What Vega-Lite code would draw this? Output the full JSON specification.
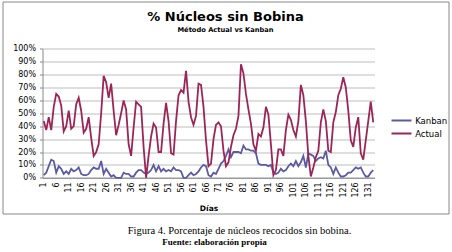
{
  "$schema": "https://vega.github.io/schema/vega-lite/v6.json",
  "padding": {"left": 1.5, "top": 0.5, "right": 0, "bottom": 0},
  "background": "white",
  "title": {"text": "Fuente: elaboración propia", "orient": "bottom", "anchor": "middle", "offset": 1, "dx": -11, "font": "Liberation Serif", "fontSize": 9, "fontWeight": "bold", "color": "#000"},
  "vconcat": [
    {
      "title": {"text": "Figura 4. Porcentaje de núcleos recocidos sin bobina.", "orient": "bottom", "anchor": "middle", "offset": 12, "dx": 14, "font": "Liberation Serif", "fontSize": 10.5, "fontWeight": "normal", "color": "#000"},
      "vconcat": [
        {
          "width": 446,
          "height": 212,
          "title": {"text": "% Núcleos sin Bobina", "subtitle": "Método Actual vs Kanban", "anchor": "middle", "frame": "group", "orient": "top", "offset": -32.5, "font": "DejaVu Sans", "fontSize": 13, "fontWeight": "bold", "color": "#000", "subtitleFont": "DejaVu Sans", "subtitleFontSize": 6.7, "subtitleFontWeight": "bold", "subtitleColor": "#000", "subtitlePadding": 3},
          "data": {"values": [
            {"dia":1,"Kanban":0.02,"Actual":0.44},{"dia":2,"Kanban":0.04,"Actual":0.37},{"dia":3,"Kanban":0.09,"Actual":0.47},{"dia":4,"Kanban":0.14,"Actual":0.37},{"dia":5,"Kanban":0.13,"Actual":0.55},
            {"dia":6,"Kanban":0.04,"Actual":0.65},{"dia":7,"Kanban":0.09,"Actual":0.63},{"dia":8,"Kanban":0.07,"Actual":0.56},{"dia":9,"Kanban":0.03,"Actual":0.36},{"dia":10,"Kanban":0.05,"Actual":0.40},
            {"dia":11,"Kanban":0.03,"Actual":0.52},{"dia":12,"Kanban":0.07,"Actual":0.38},{"dia":13,"Kanban":0.05,"Actual":0.40},{"dia":14,"Kanban":0.06,"Actual":0.57},{"dia":15,"Kanban":0.08,"Actual":0.62},
            {"dia":16,"Kanban":0.03,"Actual":0.52},{"dia":17,"Kanban":0.02,"Actual":0.35},{"dia":18,"Kanban":0.02,"Actual":0.38},{"dia":19,"Kanban":0.03,"Actual":0.47},{"dia":20,"Kanban":0.06,"Actual":0.31},
            {"dia":21,"Kanban":0.08,"Actual":0.17},{"dia":22,"Kanban":0.07,"Actual":0.20},{"dia":23,"Kanban":0.07,"Actual":0.26},{"dia":24,"Kanban":0.13,"Actual":0.50},{"dia":25,"Kanban":0.03,"Actual":0.79},
            {"dia":26,"Kanban":0.07,"Actual":0.74},{"dia":27,"Kanban":0.04,"Actual":0.62},{"dia":28,"Kanban":0.01,"Actual":0.73},{"dia":29,"Kanban":0.02,"Actual":0.52},{"dia":30,"Kanban":0.00,"Actual":0.33},
            {"dia":31,"Kanban":0.00,"Actual":0.41},{"dia":32,"Kanban":0.00,"Actual":0.50},{"dia":33,"Kanban":0.04,"Actual":0.60},{"dia":34,"Kanban":0.03,"Actual":0.53},{"dia":35,"Kanban":0.03,"Actual":0.26},
            {"dia":36,"Kanban":0.01,"Actual":0.17},{"dia":37,"Kanban":0.01,"Actual":0.39},{"dia":38,"Kanban":0.04,"Actual":0.59},{"dia":39,"Kanban":0.06,"Actual":0.57},{"dia":40,"Kanban":0.06,"Actual":0.55},
            {"dia":41,"Kanban":0.04,"Actual":0.24},{"dia":42,"Kanban":0.03,"Actual":0.00},{"dia":43,"Kanban":0.04,"Actual":0.17},{"dia":44,"Kanban":0.06,"Actual":0.32},{"dia":45,"Kanban":0.10,"Actual":0.42},
            {"dia":46,"Kanban":0.05,"Actual":0.39},{"dia":47,"Kanban":0.09,"Actual":0.20},{"dia":48,"Kanban":0.05,"Actual":0.20},{"dia":49,"Kanban":0.07,"Actual":0.42},{"dia":50,"Kanban":0.05,"Actual":0.58},
            {"dia":51,"Kanban":0.06,"Actual":0.44},{"dia":52,"Kanban":0.05,"Actual":0.19},{"dia":53,"Kanban":0.08,"Actual":0.18},{"dia":54,"Kanban":0.06,"Actual":0.44},{"dia":55,"Kanban":0.06,"Actual":0.64},
            {"dia":56,"Kanban":0.05,"Actual":0.68},{"dia":57,"Kanban":0.00,"Actual":0.66},{"dia":58,"Kanban":0.00,"Actual":0.83},{"dia":59,"Kanban":0.02,"Actual":0.59},{"dia":60,"Kanban":0.04,"Actual":0.47},
            {"dia":61,"Kanban":0.02,"Actual":0.41},{"dia":62,"Kanban":0.03,"Actual":0.48},{"dia":63,"Kanban":0.05,"Actual":0.73},{"dia":64,"Kanban":0.08,"Actual":0.72},{"dia":65,"Kanban":0.10,"Actual":0.55},
            {"dia":66,"Kanban":0.09,"Actual":0.29},{"dia":67,"Kanban":0.02,"Actual":0.09},{"dia":68,"Kanban":0.01,"Actual":0.11},{"dia":69,"Kanban":0.04,"Actual":0.30},{"dia":70,"Kanban":0.03,"Actual":0.41},
            {"dia":71,"Kanban":0.07,"Actual":0.43},{"dia":72,"Kanban":0.11,"Actual":0.40},{"dia":73,"Kanban":0.13,"Actual":0.21},{"dia":74,"Kanban":0.17,"Actual":0.09},{"dia":75,"Kanban":0.22,"Actual":0.12},
            {"dia":76,"Kanban":0.16,"Actual":0.24},{"dia":77,"Kanban":0.20,"Actual":0.33},{"dia":78,"Kanban":0.20,"Actual":0.38},{"dia":79,"Kanban":0.20,"Actual":0.48},{"dia":80,"Kanban":0.19,"Actual":0.88},
            {"dia":81,"Kanban":0.25,"Actual":0.81},{"dia":82,"Kanban":0.22,"Actual":0.65},{"dia":83,"Kanban":0.22,"Actual":0.53},{"dia":84,"Kanban":0.21,"Actual":0.42},{"dia":85,"Kanban":0.21,"Actual":0.26},
            {"dia":86,"Kanban":0.19,"Actual":0.21},{"dia":87,"Kanban":0.11,"Actual":0.34},{"dia":88,"Kanban":0.10,"Actual":0.32},{"dia":89,"Kanban":0.10,"Actual":0.39},{"dia":90,"Kanban":0.10,"Actual":0.55},
            {"dia":91,"Kanban":0.09,"Actual":0.49},{"dia":92,"Kanban":0.10,"Actual":0.26},{"dia":93,"Kanban":0.04,"Actual":0.02},{"dia":94,"Kanban":0.03,"Actual":0.06},{"dia":95,"Kanban":0.04,"Actual":0.22},
            {"dia":96,"Kanban":0.07,"Actual":0.22},{"dia":97,"Kanban":0.05,"Actual":0.17},{"dia":98,"Kanban":0.06,"Actual":0.37},{"dia":99,"Kanban":0.09,"Actual":0.49},{"dia":100,"Kanban":0.11,"Actual":0.45},
            {"dia":101,"Kanban":0.09,"Actual":0.37},{"dia":102,"Kanban":0.13,"Actual":0.32},{"dia":103,"Kanban":0.09,"Actual":0.44},{"dia":104,"Kanban":0.12,"Actual":0.72},{"dia":105,"Kanban":0.17,"Actual":0.64},
            {"dia":106,"Kanban":0.08,"Actual":0.44},{"dia":107,"Kanban":0.19,"Actual":0.17},{"dia":108,"Kanban":0.18,"Actual":0.01},{"dia":109,"Kanban":0.17,"Actual":0.08},{"dia":110,"Kanban":0.13,"Actual":0.16},
            {"dia":111,"Kanban":0.15,"Actual":0.21},{"dia":112,"Kanban":0.16,"Actual":0.43},{"dia":113,"Kanban":0.15,"Actual":0.53},{"dia":114,"Kanban":0.21,"Actual":0.44},{"dia":115,"Kanban":0.10,"Actual":0.21},
            {"dia":116,"Kanban":0.08,"Actual":0.20},{"dia":117,"Kanban":0.03,"Actual":0.43},{"dia":118,"Kanban":0.08,"Actual":0.51},{"dia":119,"Kanban":0.04,"Actual":0.64},{"dia":120,"Kanban":0.01,"Actual":0.69},
            {"dia":121,"Kanban":0.01,"Actual":0.78},{"dia":122,"Kanban":0.02,"Actual":0.70},{"dia":123,"Kanban":0.04,"Actual":0.52},{"dia":124,"Kanban":0.04,"Actual":0.29},{"dia":125,"Kanban":0.06,"Actual":0.24},
            {"dia":126,"Kanban":0.08,"Actual":0.39},{"dia":127,"Kanban":0.07,"Actual":0.47},{"dia":128,"Kanban":0.08,"Actual":0.19},{"dia":129,"Kanban":0.04,"Actual":0.14},{"dia":130,"Kanban":0.01,"Actual":0.29},
            {"dia":131,"Kanban":0.01,"Actual":0.44},{"dia":132,"Kanban":0.04,"Actual":0.59},{"dia":133,"Kanban":0.06,"Actual":0.43}
          ]},
          "transform": [{"fold": ["Kanban", "Actual"], "as": ["serie", "pct"]}],
          "mark": {"type": "line", "strokeWidth": 1.8, "clip": false},
          "encoding": {
            "x": {
              "field": "dia", "type": "quantitative",
              "scale": {"domain": [0.5, 133.5], "range": [40, 372], "nice": false, "zero": false},
              "axis": {"values": [1,6,11,16,21,26,31,36,41,46,51,56,61,66,71,76,81,86,91,96,101,106,111,116,121,126,131], "format": "d", "offset": -35.7, "labelAngle": -90, "labelOverlap": false, "grid": false, "ticks": false, "tickSize": 0, "domainColor": "#888888", "domainWidth": 1, "labelPadding": 4, "labelFont": "DejaVu Sans", "labelFontSize": 8, "labelColor": "#000", "title": "Días", "titleFont": "DejaVu Sans", "titleFontSize": 7.5, "titleFontWeight": "bold", "titleColor": "#000", "titlePadding": 7}
            },
            "y": {
              "field": "pct", "type": "quantitative",
              "scale": {"domain": [0, 1], "range": [176.3, 47.3], "nice": false, "zero": false},
              "axis": {"values": [0,0.1,0.2,0.3,0.4,0.5,0.6,0.7,0.8,0.9,1], "format": ".0%", "offset": -40, "title": null, "grid": true, "gridColor": "#BDBDBD", "gridWidth": 1, "domainColor": "#888888", "tickColor": "#888888", "tickSize": 3, "labelPadding": 4, "labelFont": "DejaVu Sans", "labelFontSize": 8, "labelColor": "#000"}
            },
            "color": {
              "field": "serie", "type": "nominal",
              "scale": {"domain": ["Kanban", "Actual"], "range": ["#5B5BA3", "#9C2557"]},
              "legend": {"orient": "none", "legendX": 393, "legendY": 113, "title": null, "symbolType": "M-2,0H2", "symbolSize": 100, "symbolStrokeWidth": 2, "labelFont": "DejaVu Sans", "labelFontSize": 8.5, "labelColor": "#000", "labelOffset": 7.7, "rowPadding": 2, "padding": 0}
            }
          }
        }
      ]
    }
  ],
  "config": {
    "view": {"stroke": "#888888", "strokeWidth": 1},
    "concat": {"spacing": 0}
  }
}
